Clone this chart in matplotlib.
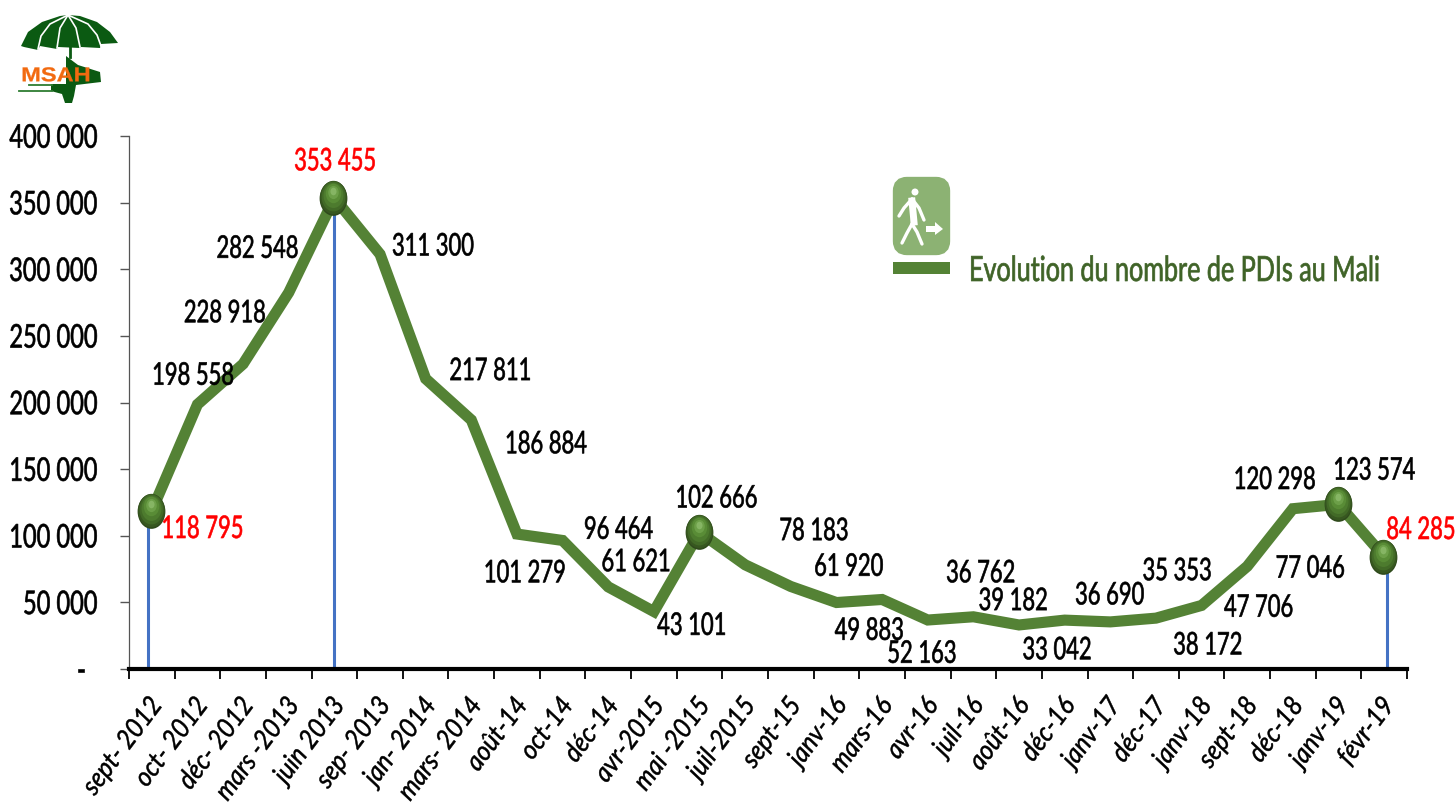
import matplotlib
matplotlib.use('Agg')
import matplotlib.pyplot as plt
from matplotlib.patches import Polygon, FancyBboxPatch, Rectangle, Circle
from matplotlib.patheffects import AbstractPathEffect
from matplotlib.path import Path
from matplotlib.ticker import FuncFormatter
from matplotlib.transforms import Affine2D, offset_copy

plt.rcParams['font.family'] = ['Lato', 'Liberation Sans', 'DejaVu Sans']

months = ['sept- 2012', 'oct- 2012', 'déc- 2012', 'mars -2013', 'juin 2013', 'sep- 2013', 'jan- 2014',
          'mars- 2014', 'août-14', 'oct-14', 'déc-14', 'avr-2015', 'mai -2015', 'juil-2015', 'sept-15',
          'janv-16', 'mars-16', 'avr-16', 'juil-16', 'août-16', 'déc-16', 'janv-17', 'déc-17', 'janv-18',
          'sept-18', 'déc-18', 'janv-19', 'févr-19']
pdis = [118795, 198558, 228918, 282548, 353455, 311300, 217811, 186884, 101279, 96464, 61621, 43101,
        102666, 78183, 61920, 49883, 52163, 36762, 39182, 33042, 36690, 35353, 38172, 47706, 77046,
        120298, 123574, 84285]
yticks = [0, 50000, 100000, 150000, 200000, 250000, 300000, 350000, 400000]

# where the labels sit relative to their point, in pixels
label_dx = [51, -4, -18, -31, 1, 53, 65, 75, 8, 56, 28, 38, 17, 69, 58, 33, 40, 53, 40, 38, 45, 67, 52, 57, 63, -18, 36, 37]
label_dy = [-18, 29, 51, 44, 37, 8, 8, -24, -39, 11, 25, -14, 34, 34, 20, -28, -54, 47, 16, -25, 25, 51, -27, -2, -2, 29, 34, 27]

red_labels = [0, 4, 27]
spheres = [0, 4, 12, 26, 27]
drop_lines = [0, 4, 27]
drop_shift = [-0.08, 0, 0.07]

GREEN = '#548235'
W, H = 1456, 806


class Tall(AbstractPathEffect):
    # the source picture is stretched, so stretch the glyphs the same way
    def __init__(self, sy=1.35, lw=0.0):
        super().__init__()
        self.sy = sy
        self.lw = lw

    def draw_path(self, renderer, gc, tpath, affine, rgbFace=None):
        ext = tpath.get_extents()
        cy = (ext.y0 + ext.y1) / 2
        tall = Affine2D().translate(0, -cy).scale(1, self.sy).translate(0, cy) + affine
        gc0 = renderer.new_gc()
        gc0.copy_properties(gc)
        gc0.set_foreground(rgbFace)
        gc0.set_linewidth(self.lw)
        renderer.draw_path(gc0, tpath, tall, rgbFace)
        gc0.restore()


def fmt(v):
    return '{:,}'.format(v).replace(',', ' ')


fig = plt.figure(figsize=(W / 100, H / 100), dpi=100)
ax = fig.add_axes([129 / W, 1 - 669 / H, (1407 - 129) / W, (669 - 136) / H])

x = list(range(len(months)))
for i, s in zip(drop_lines, drop_shift):
    ax.plot([i + s, i + s], [0, pdis[i]], color='#4472C4', lw=2.2, zorder=2, solid_capstyle='butt')
ax.plot(x, pdis, color=GREEN, lw=8, zorder=3, solid_joinstyle='miter')

# fake the glossy spheres with stacked ovals
oval = Path.unit_circle().transformed(Affine2D().scale(1, 1.25))
shades = [(25, '#2f4a1c', 0, 0), (24, '#375720', 0, 1), (21.5, '#426a27', 0, 2), (18, '#4d7b2e', 0, 3),
          (14, '#598c36', 0, 5), (9.5, '#6c9f48', 0, 6), (5.5, '#86b564', 0, 7)]
for i in spheres:
    for k, (size, col, dx, dy) in enumerate(shades):
        tr = offset_copy(ax.transData, fig=fig, x=dx - 1, y=dy, units='dots')
        ax.plot([i], [pdis[i]], marker=oval, ms=size, color=col, mec='none', zorder=4 + k * 0.1, transform=tr)

for i, v in enumerate(pdis):
    col = '#ff0000' if i in red_labels else 'black'
    ax.annotate(fmt(v), (i, v), xytext=(label_dx[i], label_dy[i]), textcoords='offset pixels',
                ha='center', va='center', fontsize=15.8, color=col, zorder=6,
                path_effects=[Tall(1.42, 0.45)])

ax.set_xlim(-0.5, len(months) - 0.5)
ax.set_ylim(0, 400000)
ax.set_yticks(yticks)
ax.yaxis.set_major_formatter(FuncFormatter(lambda v, p: '-  ' if v == 0 else fmt(int(v))))
ax.set_xticks([i - 0.5 for i in range(len(months) + 1)])
ax.set_xticklabels([])
ax.spines['top'].set_visible(False)
ax.spines['right'].set_visible(False)
ax.spines['left'].set_color('#555555')
ax.spines['left'].set_linewidth(0.9)
ax.spines['bottom'].set_color('black')
ax.spines['bottom'].set_linewidth(3)
ax.tick_params(axis='y', length=6.5, width=1, color='#555555', pad=16, labelsize=17)
ax.tick_params(axis='x', length=7, width=1.3, color='black')
for t in ax.get_yticklabels():
    t.set_path_effects([Tall(1.38, 0.45)])

for i, m in enumerate(months):
    ax.annotate(m, (i, 0), xytext=(-3, -26), textcoords='offset pixels', ha='right', va='top',
                rotation=53, rotation_mode='anchor', fontsize=17.6, style='italic', annotation_clip=False,
                path_effects=[Tall(1.1, 0.35)])

# overlay in image pixels for logo and legend
ov = fig.add_axes([0, 0, 1, 1])
ov.set_xlim(0, W)
ov.set_ylim(H, 0)
ov.axis('off')
ov.patch.set_alpha(0)

# legend
ov.add_patch(FancyBboxPatch((897, 181), 49, 70, boxstyle='round,pad=0,rounding_size=10', mutation_aspect=1,
                            fc='#8CB273', ec='#8CB273', lw=6))
ov.add_patch(Rectangle((893, 262), 57, 12, fc=GREEN, ec='none'))
ov.text(969, 270, 'Evolution du nombre de PDIs au Mali', fontsize=18.1, color='#3f6327', va='center', ha='left',
        path_effects=[Tall(1.38, 0.5)])
# walker
ov.add_patch(Circle((915, 192), 3.5, fc='white', ec='none'))
for seg in ([(912, 199), (912, 225)], [(912, 199), (904, 208), (899, 216)], [(912, 199), (919, 208), (924, 220)],
            [(912, 224), (907, 233), (902, 243)], [(912, 224), (917, 232), (922, 244)]):
    ov.plot([p[0] for p in seg], [p[1] for p in seg], color='white', lw=2.4, solid_capstyle='round')
ov.plot([912, 914], [201, 222], color='white', lw=5)
ov.add_patch(Polygon([(926, 226), (935, 226), (935, 222), (943, 229), (935, 235), (935, 232), (926, 232)],
                     fc='white', ec='none'))

# logo
DK = '#0b5a12'
ov.add_patch(Polygon([(21, 46), (28, 32), (42, 22), (60, 16), (68, 15), (80, 16), (97, 22), (110, 32), (118, 43),
                      (101, 44), (100, 48), (81, 47), (80, 48), (58, 47), (57, 49), (40, 46), (38, 50), (24, 47)],
                     fc=DK, ec='none'))
for rib in ([(68, 15), (50, 24), (41, 36), (38, 49)], [(68, 15), (60, 28), (57, 48)], [(68, 15), (76, 28), (80, 47)],
            [(68, 15), (88, 24), (97, 35), (101, 46)]):
    ov.plot([p[0] for p in rib], [p[1] for p in rib], color='white', lw=1.2)
ov.plot([70, 70], [46, 57], color=DK, lw=2)
ov.add_patch(Polygon([(66, 56), (78, 65), (100, 72), (101, 82), (76, 85), (74, 96), (72, 103), (65, 103), (62, 94),
                      (51, 91), (51, 84), (66, 84)], fc=DK, ec='none'))
ov.plot([29, 52], [85, 85], color='#2e7d32', lw=1.3)
ov.plot([19, 52], [91, 91], color='#2e7d32', lw=1.3)
ov.text(56, 76, 'MSAH', fontsize=17, fontweight='bold', color='#f26a10', ha='center', va='center',
        family=['Liberation Sans', 'DejaVu Sans'], zorder=5, path_effects=[Tall(0.85, 0.2)])

fig.savefig('out.png', dpi=100)
